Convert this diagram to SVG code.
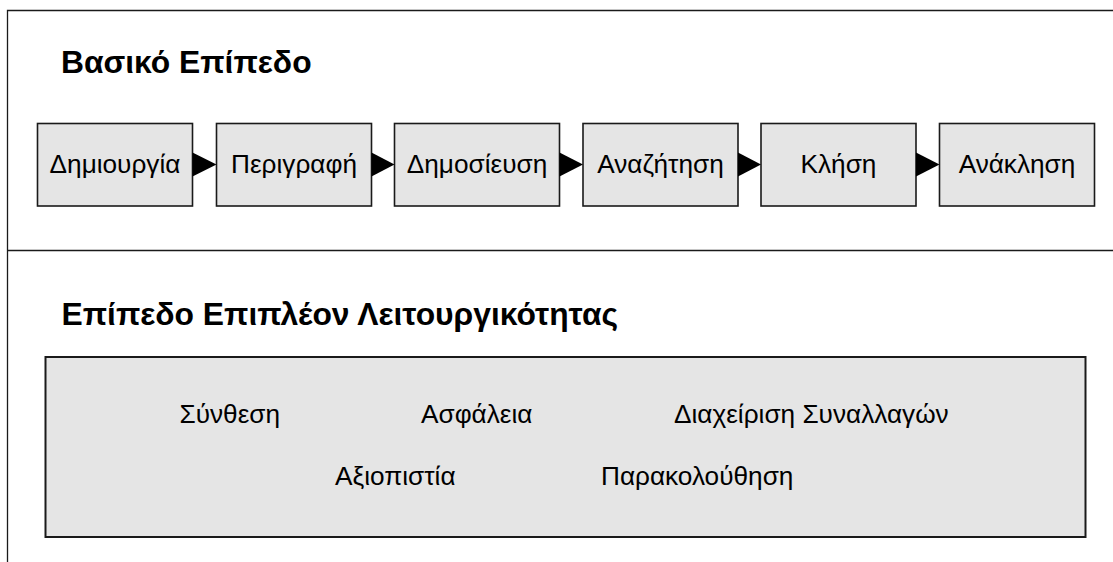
<svg xmlns="http://www.w3.org/2000/svg" width="1113" height="562" viewBox="0 0 1113 562">
  <style>
    .frame { fill: none; stroke: #1a1a1a; stroke-width: 1.3; }
    .box { fill: #e5e5e5; stroke: #1a1a1a; stroke-width: 1.6; }
    .panel { fill: #e5e5e5; stroke: #1a1a1a; stroke-width: 2; }
    .title { font-family: "Liberation Sans", Arial, sans-serif; font-weight: bold; font-size: 31.8px; fill: #000; }
    .label { font-family: "Liberation Sans", Arial, sans-serif; font-size: 26.2px; fill: #000; }
    .mid { text-anchor: middle; }
    .arrow { fill: #000; stroke: none; }
  </style>
  <rect width="1113" height="562" fill="#ffffff"/>

  <!-- layer frame: left edge, top edge and divider between the two layers -->
  <g id="frame">
    <path class="frame" d="M7.5 562 V10.5 H1113"/>
    <path class="frame" d="M7.5 250.5 H1113"/>
  </g>

  <text class="title" x="61" y="73">Βασικό Επίπεδο</text>

  <!-- basic layer: lifecycle steps -->
  <g id="step-create">
    <rect class="box" x="37.5" y="123.5" width="155" height="82.5"/>
    <text class="label mid" x="115" y="173">Δημιουργία</text>
  </g>
  <g id="step-describe">
    <rect class="box" x="216.5" y="123.5" width="155" height="82.5"/>
    <text class="label mid" x="294" y="173">Περιγραφή</text>
  </g>
  <g id="step-publish">
    <rect class="box" x="394.5" y="123.5" width="165" height="82.5"/>
    <text class="label mid" x="477" y="173">Δημοσίευση</text>
  </g>
  <g id="step-discover">
    <rect class="box" x="583" y="123.5" width="155" height="82.5"/>
    <text class="label mid" x="660.5" y="173">Αναζήτηση</text>
  </g>
  <g id="step-invoke">
    <rect class="box" x="761" y="123.5" width="155" height="82.5"/>
    <text class="label mid" x="838.5" y="173">Κλήση</text>
  </g>
  <g id="step-revoke">
    <rect class="box" x="939.5" y="123.5" width="155" height="82.5"/>
    <text class="label mid" x="1017" y="173">Ανάκληση</text>
  </g>

  <!-- arrows between consecutive steps -->
  <g id="connectors">
    <polygon class="arrow" points="192.5,152.5 216.5,164.5 192.5,176.5"/>
    <polygon class="arrow" points="371.5,152.5 394.5,164.5 371.5,176.5"/>
    <polygon class="arrow" points="559.5,152.5 583,164.5 559.5,176.5"/>
    <polygon class="arrow" points="738,152.5 761,164.5 738,176.5"/>
    <polygon class="arrow" points="916,152.5 939.5,164.5 916,176.5"/>
  </g>

  <text class="title" x="61.5" y="325">Επίπεδο Επιπλέον Λειτουργικότητας</text>

  <!-- extended layer: additional capabilities -->
  <g id="extended-functionality">
    <rect class="panel" x="45.5" y="357" width="1040" height="180"/>
    <text class="label" x="179.5" y="423">Σύνθεση</text>
    <text class="label" x="421" y="423">Ασφάλεια</text>
    <text class="label" x="674" y="423">Διαχείριση Συναλλαγών</text>
    <text class="label" x="335" y="485">Αξιοπιστία</text>
    <text class="label" x="601" y="485">Παρακολούθηση</text>
  </g>
</svg>
